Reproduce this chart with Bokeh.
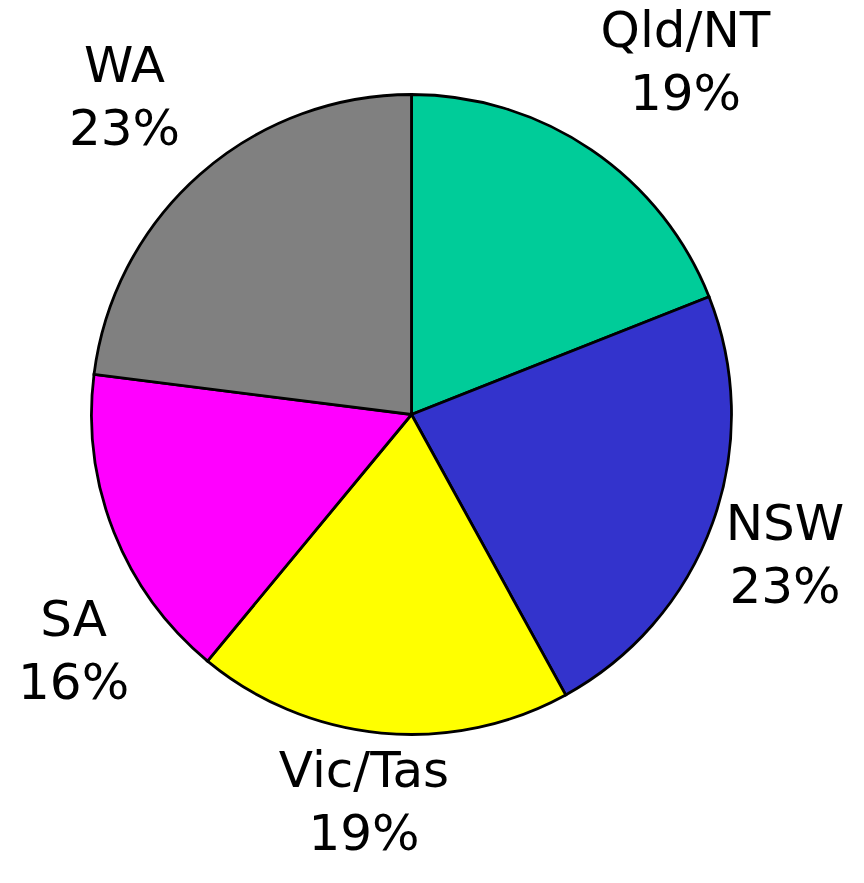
import math
from bokeh.plotting import figure
from bokeh.models import ColumnDataSource, Range1d
from bokeh.core.properties import value
from bokeh.embed import file_html
from bokeh.resources import INLINE

# ---- data ----
regions = ["Qld/NT", "NSW", "Vic/Tas", "SA", "WA"]
shares = [19, 23, 19, 16, 23]
colors = ["#00CC99", "#3333CC", "#FFFF00", "#FF00FF", "#808080"]

# ---- layout constants ----
W, H = 848, 867
CX, CY = 411, 453          # pie centre (data units == pixels)
R = 320
label_r = [447, 399, 390, 412, 428]
label_nudge_deg = [3.6, 0.8, 1.6, -13.3, -0.7]
LINE_GAP = 63
FONT = "DejaVu Sans"
FSIZE = "50px"

total = float(sum(shares))
starts, ends, lx, ly_name, ly_pct, pct_txt = [], [], [], [], [], []
cum = 0.0
for i, s in enumerate(shares):
    a0 = cum / total * 2 * math.pi
    cum += s
    a1 = cum / total * 2 * math.pi
    # clockwise from 12 o'clock -> bokeh anticlockwise angles
    starts.append(math.pi / 2 - a1)
    ends.append(math.pi / 2 - a0)
    mid = (a0 + a1) / 2 + math.radians(label_nudge_deg[i])
    x = CX + label_r[i] * math.sin(mid)
    y = CY + label_r[i] * math.cos(mid)
    lx.append(x)
    ly_name.append(y + LINE_GAP / 2)
    ly_pct.append(y - LINE_GAP / 2)
    pct_txt.append(f"{s}%")

src = ColumnDataSource(dict(region=regions, share=shares, color=colors,
                            start=starts, end=ends, lx=lx,
                            ly_name=ly_name, ly_pct=ly_pct, pct=pct_txt))

p = figure(width=W, height=H, output_backend="svg", toolbar_location=None,
           x_range=Range1d(0, W), y_range=Range1d(0, H),
           min_border=0, outline_line_color=None, background_fill_color="white",
           border_fill_color="white")
p.axis.visible = False
p.grid.visible = False

p.wedge(x=CX, y=CY, radius=R, start_angle="start", end_angle="end",
        fill_color="color", line_color="black", line_width=2.8,
        line_join="miter", source=src)

p.text(x="lx", y="ly_name", text="region", source=src,
       text_align="center", text_baseline="middle",
       text_font=value(FONT), text_font_size=FSIZE, text_color="black")
p.text(x="lx", y="ly_pct", text="pct", source=src,
       text_align="center", text_baseline="middle",
       text_font=value(FONT), text_font_size=FSIZE, text_color="black")

open("out.html", "w").write(file_html(p, INLINE))
